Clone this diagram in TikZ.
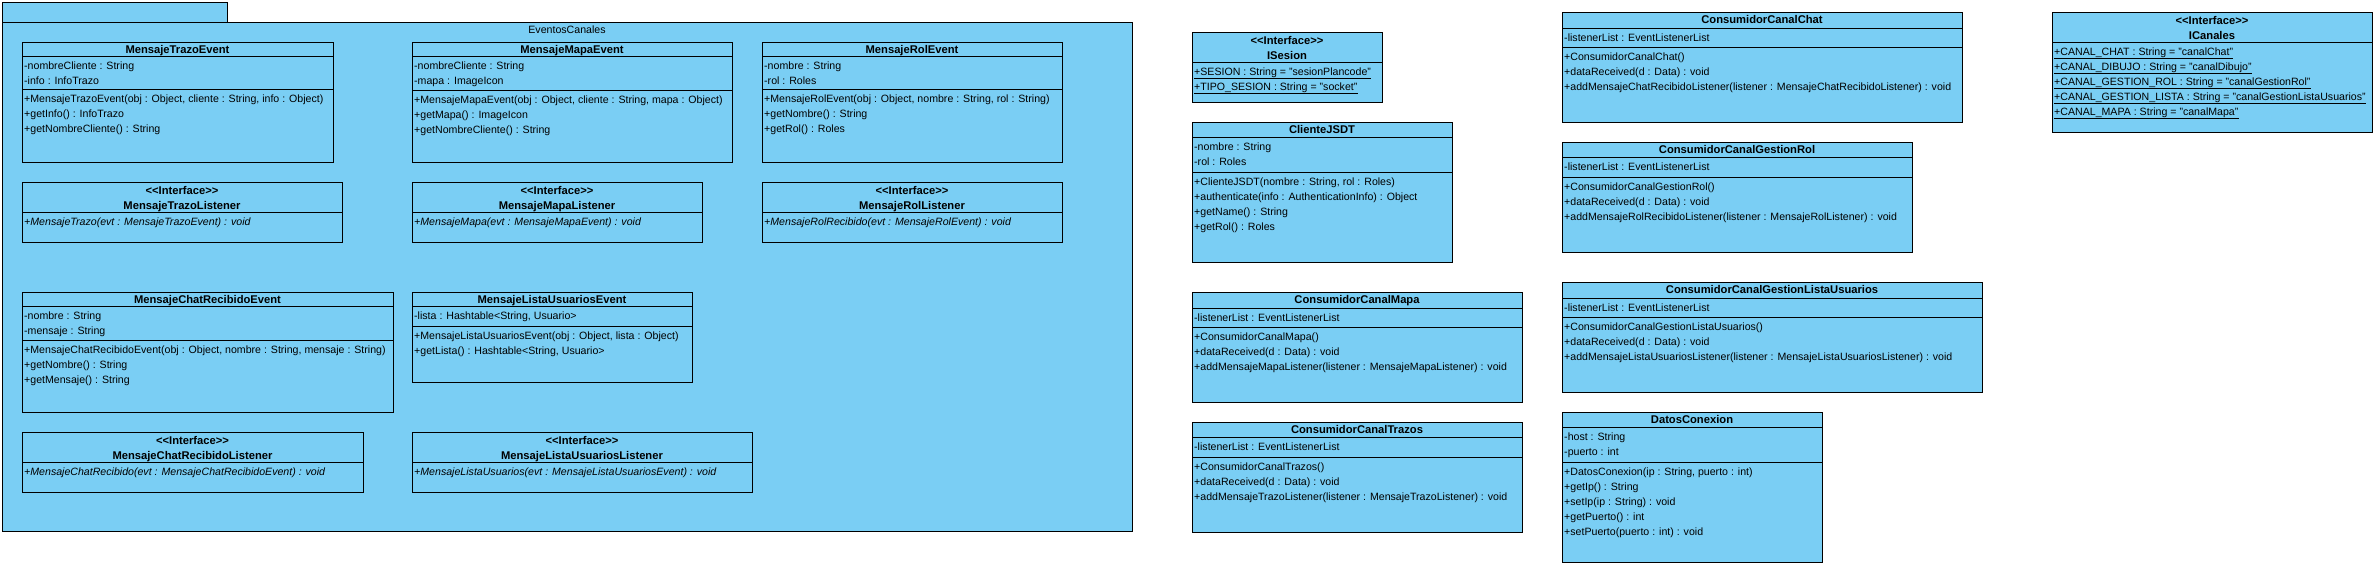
\documentclass[tikz,border=0pt]{standalone}
\usepackage{fontspec}
\setmainfont{Liberation Sans}
\definecolor{umlfill}{RGB}{122,206,244}
\tikzset{
  umlbox/.style={draw=black, fill=umlfill, line width=1pt},
  umlline/.style={draw=black, line width=1pt},
  umltext/.style={anchor=base west, inner sep=0pt, font=\fontsize{10.6}{13}\selectfont},
  umlital/.style={umltext, font=\fontsize{10.6}{13}\selectfont\itshape},
  umlhead/.style={anchor=base, inner sep=0pt, font=\fontsize{11.2}{13}\selectfont\bfseries},
  umlplain/.style={anchor=base, inner sep=0pt, font=\fontsize{10.6}{13}\selectfont},
}
\newcommand{\stereo}{<\kern0pt<Interface>\kern0pt>}

\begin{document}
\begin{tikzpicture}[x=1pt, y=-1pt]
\useasboundingbox (0,0) rectangle (2376,566);

% 包 EventosCanales
\draw[umlbox] (2,2) rectangle (227,22);
\draw[umlbox] (2,22) rectangle (1132,531);
\node[umlplain] (pkg) at (567,33.5) {EventosCanales};

% MensajeTrazoEvent
\draw[umlbox] (22,42) rectangle (333,162);
\draw[umlline] (22,56) -- (333,56) (22,89) -- (333,89);
\node[umlhead] (trazoEv) at (177.5,53.5) {MensajeTrazoEvent};
\foreach \s [count=\i] in {{-nombreCliente : String},{-info : InfoTrazo}}
    \node[umltext] (trazoEvA\i) at (24,54.5+15*\i) {\s};
\foreach \s [count=\i] in {{+MensajeTrazoEvent(obj : Object, cliente : String, info : Object)},{+getInfo() : InfoTrazo},{+getNombreCliente() : String}}
    \node[umltext] (trazoEvM\i) at (24,87.5+15*\i) {\s};

% MensajeMapaEvent
\draw[umlbox] (412,42) rectangle (732,162);
\draw[umlline] (412,56) -- (732,56) (412,90) -- (732,90);
\node[umlhead] (mapaEv) at (572,53.5) {MensajeMapaEvent};
\foreach \s [count=\i] in {{-nombreCliente : String},{-mapa : ImageIcon}}
    \node[umltext] (mapaEvA\i) at (414,54.5+15*\i) {\s};
\foreach \s [count=\i] in {{+MensajeMapaEvent(obj : Object, cliente : String, mapa : Object)},{+getMapa() : ImageIcon},{+getNombreCliente() : String}}
    \node[umltext] (mapaEvM\i) at (414,88.5+15*\i) {\s};

% MensajeRolEvent
\draw[umlbox] (762,42) rectangle (1062,162);
\draw[umlline] (762,56) -- (1062,56) (762,89) -- (1062,89);
\node[umlhead] (rolEv) at (912,53.5) {MensajeRolEvent};
\foreach \s [count=\i] in {{-nombre : String},{-rol : Roles}}
    \node[umltext] (rolEvA\i) at (764,54.5+15*\i) {\s};
\foreach \s [count=\i] in {{+MensajeRolEvent(obj : Object, nombre : String, rol : String)},{+getNombre() : String},{+getRol() : Roles}}
    \node[umltext] (rolEvM\i) at (764,87.5+15*\i) {\s};

% MensajeTrazoListener
\draw[umlbox] (22,182) rectangle (342,242);
\draw[umlline] (22,212) -- (342,212);
\node[umlhead] (trazoLisS) at (182,194) {\stereo};
\node[umlhead] (trazoLis) at (182,209) {MensajeTrazoListener};
\node[umlital] (trazoLisM1) at (24,225.5) {+MensajeTrazo(evt : MensajeTrazoEvent) : void};

% MensajeMapaListener
\draw[umlbox] (412,182) rectangle (702,242);
\draw[umlline] (412,212) -- (702,212);
\node[umlhead] (mapaLisS) at (557,194) {\stereo};
\node[umlhead] (mapaLis) at (557,209) {MensajeMapaListener};
\node[umlital] (mapaLisM1) at (414,225.5) {+MensajeMapa(evt : MensajeMapaEvent) : void};

% MensajeRolListener
\draw[umlbox] (762,182) rectangle (1062,242);
\draw[umlline] (762,212) -- (1062,212);
\node[umlhead] (rolLisS) at (912,194) {\stereo};
\node[umlhead] (rolLis) at (912,209) {MensajeRolListener};
\node[umlital] (rolLisM1) at (764,225.5) {+MensajeRolRecibido(evt : MensajeRolEvent) : void};

% MensajeChatRecibidoEvent
\draw[umlbox] (22,292) rectangle (393,412);
\draw[umlline] (22,306) -- (393,306) (22,340) -- (393,340);
\node[umlhead] (chatEv) at (207.5,303.5) {MensajeChatRecibidoEvent};
\foreach \s [count=\i] in {{-nombre : String},{-mensaje : String}}
    \node[umltext] (chatEvA\i) at (24,304.5+15*\i) {\s};
\foreach \s [count=\i] in {{+MensajeChatRecibidoEvent(obj : Object, nombre : String, mensaje : String)},{+getNombre() : String},{+getMensaje() : String}}
    \node[umltext] (chatEvM\i) at (24,338.5+15*\i) {\s};

% MensajeListaUsuariosEvent
\draw[umlbox] (412,292) rectangle (692,382);
\draw[umlline] (412,306) -- (692,306) (412,326) -- (692,326);
\node[umlhead] (listaEv) at (552,303.5) {MensajeListaUsuariosEvent};
\node[umltext] (listaEvA1) at (414,319.5) {-lista : Hashtable<String, Usuario>};
\foreach \s [count=\i] in {{+MensajeListaUsuariosEvent(obj : Object, lista : Object)},{+getLista() : Hashtable<String, Usuario>}}
    \node[umltext] (listaEvM\i) at (414,324.5+15*\i) {\s};

% MensajeChatRecibidoListener
\draw[umlbox] (22,432) rectangle (363,492);
\draw[umlline] (22,462) -- (363,462);
\node[umlhead] (chatLisS) at (192.5,444) {\stereo};
\node[umlhead] (chatLis) at (192.5,459) {MensajeChatRecibidoListener};
\node[umlital] (chatLisM1) at (24,475.5) {+MensajeChatRecibido(evt : MensajeChatRecibidoEvent) : void};

% MensajeListaUsuariosListener
\draw[umlbox] (412,432) rectangle (752,492);
\draw[umlline] (412,462) -- (752,462);
\node[umlhead] (listaLisS) at (582,444) {\stereo};
\node[umlhead] (listaLis) at (582,459) {MensajeListaUsuariosListener};
\node[umlital] (listaLisM1) at (414,475.5) {+MensajeListaUsuarios(evt : MensajeListaUsuariosEvent) : void};

% ISesion
\draw[umlbox] (1192,32) rectangle (1382,102);
\draw[umlline] (1192,62) -- (1382,62);
\node[umlhead] (sesionS) at (1287,44) {\stereo};
\node[umlhead] (sesion) at (1287,59) {ISesion};
\foreach \s [count=\i] in {{+SESION : String = "sesionPlancode"},{+TIPO\_SESION : String = "socket"}} {
    \node[umltext] (sesionA\i) at (1194,60.5+15*\i) {\s};
    \draw[line width=0.9pt] ([yshift=-2.6pt]sesionA\i.base west) -- ([yshift=-2.6pt]sesionA\i.base east);
}

% ClienteJSDT
\draw[umlbox] (1192,122) rectangle (1452,262);
\draw[umlline] (1192,137) -- (1452,137) (1192,172) -- (1452,172);
\node[umlhead] (cliente) at (1322,133.5) {ClienteJSDT};
\foreach \s [count=\i] in {{-nombre : String},{-rol : Roles}}
    \node[umltext] (clienteA\i) at (1194,135.5+15*\i) {\s};
\foreach \s [count=\i] in {{+ClienteJSDT(nombre : String, rol : Roles)},{+authenticate(info : AuthenticationInfo) : Object},{+getName() : String},{+getRol() : Roles}}
    \node[umltext] (clienteM\i) at (1194,170.5+15*\i) {\s};

% ConsumidorCanalMapa
\draw[umlbox] (1192,292) rectangle (1522,402);
\draw[umlline] (1192,308) -- (1522,308) (1192,327) -- (1522,327);
\node[umlhead] (ccMapa) at (1357,303.7) {ConsumidorCanalMapa};
\node[umltext] (ccMapaA1) at (1194,321.5) {-listenerList : EventListenerList};
\foreach \s [count=\i] in {{+ConsumidorCanalMapa()},{+dataReceived(d : Data) : void},{+addMensajeMapaListener(listener : MensajeMapaListener) : void}}
    \node[umltext] (ccMapaM\i) at (1194,325.5+15*\i) {\s};

% ConsumidorCanalTrazos
\draw[umlbox] (1192,422) rectangle (1522,532);
\draw[umlline] (1192,437) -- (1522,437) (1192,457) -- (1522,457);
\node[umlhead] (ccTrazos) at (1357,433.7) {ConsumidorCanalTrazos};
\node[umltext] (ccTrazosA1) at (1194,450.5) {-listenerList : EventListenerList};
\foreach \s [count=\i] in {{+ConsumidorCanalTrazos()},{+dataReceived(d : Data) : void},{+addMensajeTrazoListener(listener : MensajeTrazoListener) : void}}
    \node[umltext] (ccTrazosM\i) at (1194,455.5+15*\i) {\s};

% ConsumidorCanalChat
\draw[umlbox] (1562,12) rectangle (1962,122);
\draw[umlline] (1562,28) -- (1962,28) (1562,47) -- (1962,47);
\node[umlhead] (ccChat) at (1762,23.7) {ConsumidorCanalChat};
\node[umltext] (ccChatA1) at (1564,41.5) {-listenerList : EventListenerList};
\foreach \s [count=\i] in {{+ConsumidorCanalChat()},{+dataReceived(d : Data) : void},{+addMensajeChatRecibidoListener(listener : MensajeChatRecibidoListener) : void}}
    \node[umltext] (ccChatM\i) at (1564,45.5+15*\i) {\s};

% ConsumidorCanalGestionRol
\draw[umlbox] (1562,142) rectangle (1912,252);
\draw[umlline] (1562,157) -- (1912,157) (1562,177) -- (1912,177);
\node[umlhead] (ccRol) at (1737,153.7) {ConsumidorCanalGestionRol};
\node[umltext] (ccRolA1) at (1564,170.5) {-listenerList : EventListenerList};
\foreach \s [count=\i] in {{+ConsumidorCanalGestionRol()},{+dataReceived(d : Data) : void},{+addMensajeRolRecibidoListener(listener : MensajeRolListener) : void}}
    \node[umltext] (ccRolM\i) at (1564,175.5+15*\i) {\s};

% ConsumidorCanalGestionListaUsuarios
\draw[umlbox] (1562,282) rectangle (1982,392);
\draw[umlline] (1562,298) -- (1982,298) (1562,317) -- (1982,317);
\node[umlhead] (ccLista) at (1772,293.7) {ConsumidorCanalGestionListaUsuarios};
\node[umltext] (ccListaA1) at (1564,311.5) {-listenerList : EventListenerList};
\foreach \s [count=\i] in {{+ConsumidorCanalGestionListaUsuarios()},{+dataReceived(d : Data) : void},{+addMensajeListaUsuariosListener(listener : MensajeListaUsuariosListener) : void}}
    \node[umltext] (ccListaM\i) at (1564,315.5+15*\i) {\s};

% DatosConexion
\draw[umlbox] (1562,412) rectangle (1822,562);
\draw[umlline] (1562,427) -- (1822,427) (1562,462) -- (1822,462);
\node[umlhead] (datos) at (1692,423.7) {DatosConexion};
\foreach \s [count=\i] in {{-host : String},{-puerto : int}}
    \node[umltext] (datosA\i) at (1564,425.5+15*\i) {\s};
\foreach \s [count=\i] in {{+DatosConexion(ip : String, puerto : int)},{+getIp() : String},{+setIp(ip : String) : void},{+getPuerto() : int},{+setPuerto(puerto : int) : void}}
    \node[umltext] (datosM\i) at (1564,460.5+15*\i) {\s};

% ICanales
\draw[umlbox] (2052,12) rectangle (2372,132);
\draw[umlline] (2052,42) -- (2372,42);
\node[umlhead] (canalesS) at (2212,24) {\stereo};
\node[umlhead] (canales) at (2212,39) {ICanales};
\foreach \s [count=\i] in {{+CANAL\_CHAT : String = "canalChat"},{+CANAL\_DIBUJO : String = "canalDibujo"},{+CANAL\_GESTION\_ROL : String = "canalGestionRol"},{+CANAL\_GESTION\_LISTA : String = "canalGestionListaUsuarios"},{+CANAL\_MAPA : String = "canalMapa"}} {
    \node[umltext] (canalesA\i) at (2054,40.5+15*\i) {\s};
    \draw[line width=0.9pt] ([yshift=-2.6pt]canalesA\i.base west) -- ([yshift=-2.6pt]canalesA\i.base east);
}
\end{tikzpicture}
\end{document}
